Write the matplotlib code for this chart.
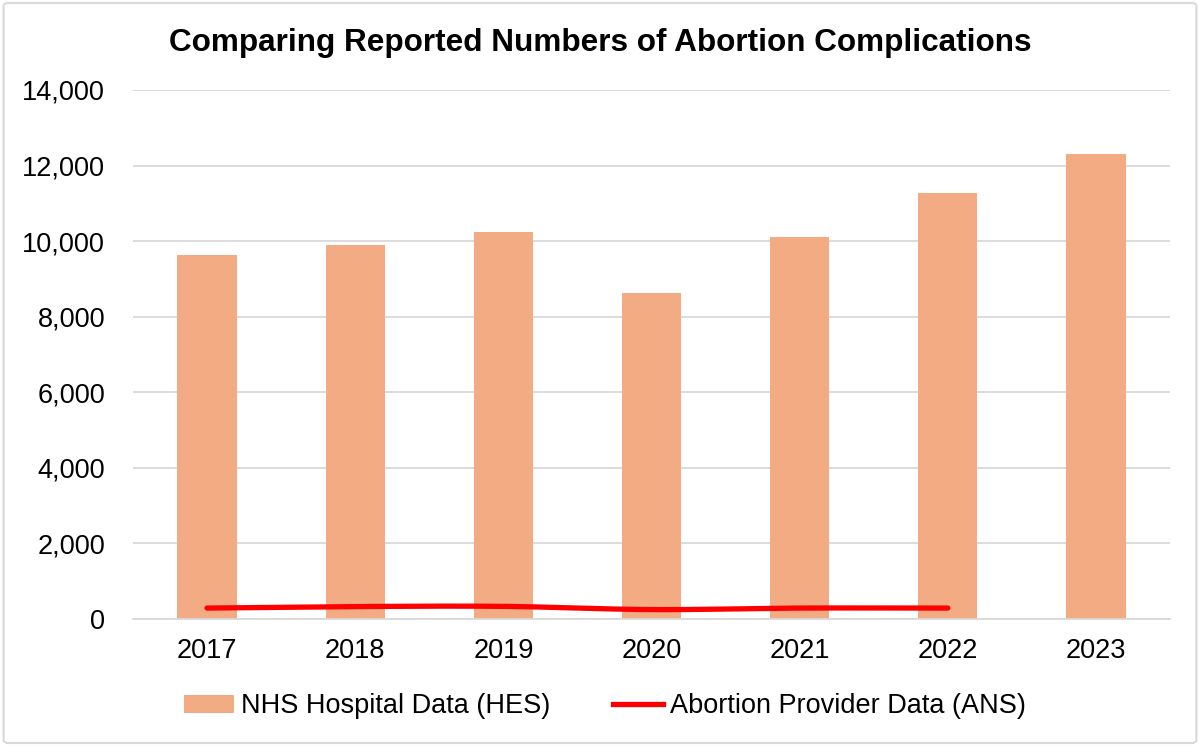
import numpy as np
import matplotlib.pyplot as plt
from matplotlib.patches import FancyBboxPatch
from matplotlib.lines import Line2D
from matplotlib.patches import Patch
from matplotlib.ticker import FuncFormatter

# Data
years = ['2017', '2018', '2019', '2020', '2021', '2022', '2023']
hes_values = [9620, 9910, 10250, 8640, 10115, 11280, 12310]
ans_years = ['2017', '2018', '2019', '2020', '2021', '2022']
ans_values = [290, 330, 335, 250, 290, 290]

bar_color = '#F3AB84'
line_color = '#FF0000'
grid_color = '#D9D9D9'

plt.rcParams['font.family'] = ['Liberation Sans', 'DejaVu Sans']


def catmull_rom(x, y, n=30):
    # smooth curve through the points, like Excel's "smoothed line"
    x = np.asarray(x, float)
    y = np.asarray(y, float)
    px = np.concatenate([[2 * x[0] - x[1]], x, [2 * x[-1] - x[-2]]])
    py = np.concatenate([[2 * y[0] - y[1]], y, [2 * y[-1] - y[-2]]])
    xs, ys = [], []
    t = np.linspace(0, 1, n)
    for i in range(1, len(px) - 2):
        for p, out in ((px, xs), (py, ys)):
            p0, p1, p2, p3 = p[i - 1], p[i], p[i + 1], p[i + 2]
            out.append(0.5 * ((2 * p1) + (-p0 + p2) * t
                              + (2 * p0 - 5 * p1 + 4 * p2 - p3) * t ** 2
                              + (-p0 + 3 * p1 - 3 * p2 + p3) * t ** 3))
    return np.concatenate(xs), np.concatenate(ys)


fig = plt.figure(figsize=(12, 7.46), dpi=100)
ax = fig.add_axes([0.1108, 0.1702, 0.8642, 0.7092])

x = np.arange(len(years))
ax.bar(x, hes_values, width=0.4, color=bar_color, zorder=2)

ans_x = np.arange(len(ans_years))
sx, sy = catmull_rom(ans_x, ans_values)
ax.plot(sx, sy, color=line_color, linewidth=3.8, solid_capstyle='round', zorder=3)

ax.set_xlim(-0.5, len(years) - 0.5)
ax.set_ylim(0, 14000)
ax.set_yticks(range(0, 14001, 2000))
ax.yaxis.set_major_formatter(FuncFormatter(lambda v, p: f'{int(v):,}'))
ax.set_xticks(x)
ax.set_xticklabels(years)
ax.tick_params(axis='both', length=0, labelsize=19.5, colors='#000000')
ax.tick_params(axis='y', pad=20)
ax.tick_params(axis='x', pad=14)

ax.grid(axis='y', color=grid_color, linewidth=1.3, zorder=0)
ax.set_axisbelow(True)
for side in ['top', 'right', 'left']:
    ax.spines[side].set_visible(False)
ax.spines['bottom'].set_color(grid_color)
ax.spines['bottom'].set_linewidth(1.3)

fig.text(0.5, 0.943, 'Comparing Reported Numbers of Abortion Complications',
         ha='center', va='center', fontsize=22.7, fontweight='bold')

handles = [Patch(facecolor=bar_color, edgecolor='none'),
           Line2D([0], [0], color=line_color, linewidth=3.8)]
fig.legend(handles, ['NHS Hospital Data (HES)', 'Abortion Provider Data (ANS)'],
           loc='center', bbox_to_anchor=(0.504, 0.053), ncol=2, frameon=False,
           fontsize=19.5, handlelength=1.85, handletextpad=0.26, columnspacing=2.3)

# light rounded border around the whole chart
border = FancyBboxPatch((0.003, 0.004), 0.994, 0.992,
                        boxstyle='round,pad=0,rounding_size=0.004',
                        transform=fig.transFigure, facecolor='none',
                        edgecolor='#D9D9D9', linewidth=1.5)
fig.patches.append(border)

fig.savefig('out.png', dpi=100)
